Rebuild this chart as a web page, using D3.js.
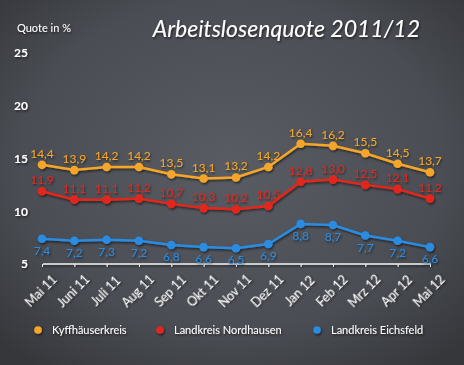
<!DOCTYPE html>
<html><head><meta charset="utf-8">
<script src="https://cdn.jsdelivr.net/npm/d3@7"></script>
<style>html,body{margin:0;padding:0;background:#4b4e54;}svg{display:block;}</style>
</head><body>
<script>
const categories = ["Mai 11","Juni 11","Juli 11","Aug 11","Sep 11","Okt 11","Nov 11","Dez 11","Jan 12","Feb 12","Mrz 12","Apr 12","Mai 12"];
const kyffhaeuser = [14.4,13.9,14.2,14.2,13.5,13.1,13.2,14.2,16.4,16.2,15.5,14.5,13.7];
const nordhausen = [11.9,11.1,11.1,11.2,10.7,10.3,10.2,10.5,12.8,13.0,12.5,12.1,11.2];
const eichsfeld = [7.4,7.2,7.3,7.2,6.8,6.6,6.5,6.9,8.8,8.7,7.7,7.2,6.6];
const yTicks = [5,10,15,20,25];
const seriesNames = ["Kyffhäuserkreis","Landkreis Nordhausen","Landkreis Eichsfeld"];
const seriesColors = ["#f5a52a","#e2281e","#2b8be0"];

const W=464,H=365;
const svg=d3.select("body").append("svg").attr("width",W).attr("height",H);
const defs=svg.append("defs");
const rg=defs.append("radialGradient").attr("id","bg").attr("cx","50%").attr("cy","45%").attr("r","70%");
rg.append("stop").attr("offset","0%").attr("stop-color","#595d63");
rg.append("stop").attr("offset","65%").attr("stop-color","#4a4d53");
rg.append("stop").attr("offset","100%").attr("stop-color","#35373b");
const sh=defs.append("filter").attr("id","sh").attr("x","-20%").attr("y","-20%").attr("width","140%").attr("height","140%");
sh.append("feDropShadow").attr("dx",1).attr("dy",1.5).attr("stdDeviation",1).attr("flood-color","#000").attr("flood-opacity",0.6);
svg.append("rect").attr("width",W).attr("height",H).attr("fill","url(#bg)");

const x=d3.scalePoint().domain(categories).range([42,430]);
const y=d3.scaleLinear().domain([5,25]).range([264,53]);

// grid
const g=svg.append("g");
g.selectAll("line.grid").data(yTicks.filter(d=>d>5)).join("line")
 .attr("x1",43).attr("x2",431).attr("y1",d=>y(d)).attr("y2",d=>y(d))
 .attr("stroke","#a3a5a8").attr("stroke-width",1.3).attr("filter","url(#sh)");
// x axis
const xa=svg.append("g").attr("transform",`translate(0,${y(5)})`).attr("filter","url(#sh)")
 .call(d3.axisBottom(x).tickSize(3).tickFormat(""));
xa.select(".domain").attr("stroke","#f2f2f2").attr("stroke-width",1.3).attr("d",`M43,0H431`);
xa.selectAll(".tick line").attr("stroke","#f2f2f2");
svg.append("g").selectAll("text").data(categories).join("text")
 .attr("transform",d=>`translate(${x(d)},${292}) rotate(-45)`)
 .attr("text-anchor","middle").attr("dominant-baseline","middle")
 .attr("fill","#fff").attr("font-family","Lato, 'Open Sans', sans-serif").attr("font-size",12.5)
 .attr("filter","url(#sh)").text(d=>d);
// y labels
const ya=svg.append("g").attr("transform","translate(31,0)")
 .call(d3.axisLeft(y).tickValues(yTicks).tickSize(0).tickFormat(d3.format("d")));
ya.select(".domain").remove();
ya.selectAll("text").attr("fill","#fff").attr("font-family","Lato, 'DejaVu Sans', sans-serif")
 .attr("font-weight","bold").attr("font-size",12).attr("text-anchor","end").attr("dx",0).attr("filter","url(#sh)");

svg.append("text").attr("x",17).attr("y",32).attr("fill","#fff").attr("font-family","Lato, sans-serif")
 .attr("font-size",11).attr("filter","url(#sh)").text("Quote in %");
svg.append("text").attr("x",420).attr("y",37).attr("text-anchor","end").attr("fill","#fff")
 .attr("font-family","Lato, 'Open Sans', sans-serif").attr("font-style","italic").attr("font-size",23)
 .attr("filter","url(#sh)").text("Arbeitslosenquote 2011/12");

const fmt=v=>d3.format(".1f")(v).replace(".",",");
const data=[kyffhaeuser,nordhausen,eichsfeld];
const line=d3.line().x((d,i)=>x(categories[i])).y(d=>y(d));
data.forEach((vals,si)=>{
  const c=seriesColors[si];
  const gs=svg.append("g").attr("filter","url(#sh)");
  gs.append("path").datum(vals).attr("d",line).attr("fill","none").attr("stroke",c).attr("stroke-width",2.5);
  gs.selectAll("circle").data(vals).join("circle").attr("cx",(d,i)=>x(categories[i])).attr("cy",d=>y(d))
   .attr("r",4.3).attr("fill",c);
  gs.selectAll("text").data(vals).join("text").attr("x",(d,i)=>x(categories[i]))
   .attr("y",d=>si===2? y(d)+16 : y(d)-7)
   .attr("text-anchor","middle").attr("fill",c).attr("font-family","Lato, 'Open Sans', sans-serif")
   .attr("font-size",12).text(fmt);
});

// legend
const lx=[38,160,317];
const lg=svg.append("g").attr("filter","url(#sh)");
seriesNames.forEach((n,i)=>{
  lg.append("circle").attr("cx",lx[i]).attr("cy",330).attr("r",3.8).attr("fill",seriesColors[i]);
  lg.append("text").attr("x",lx[i]+14).attr("y",334).attr("fill","#fff").attr("font-family","Lato, sans-serif")
   .attr("font-size",11).text(n);
});
</script>
</body></html>
